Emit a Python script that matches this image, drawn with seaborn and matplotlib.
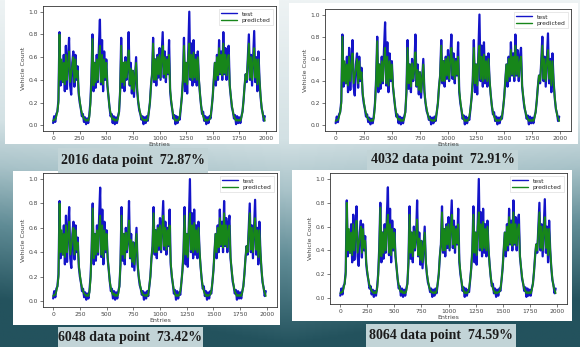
import numpy as np
import pandas as pd
import matplotlib
matplotlib.use("Agg")
import matplotlib.pyplot as plt
from matplotlib.patches import Rectangle
from matplotlib.colors import LinearSegmentedColormap
import seaborn as sns

# ---------------- data ----------------
entries = list(range(0, 2000, 10))

test = [
    0.02, 0.08, 0.03, 0.10, 0.12, 0.22, 0.82, 0.35, 0.55, 0.38,
    0.62, 0.30, 0.70, 0.32, 0.58, 0.77, 0.35, 0.27, 0.55, 0.65,
    0.34, 0.62, 0.40, 0.52, 0.28, 0.20, 0.15, 0.08, 0.10, 0.03,
    0.07, 0.01, 0.06, 0.02, 0.09, 0.20, 0.42, 0.80, 0.30, 0.55,
    0.33, 0.62, 0.38, 0.68, 0.93, 0.36, 0.75, 0.30, 0.65, 0.40,
    0.58, 0.35, 0.25, 0.16, 0.08, 0.10, 0.02, 0.08, 0.01, 0.07,
    0.02, 0.08, 0.12, 0.30, 0.77, 0.33, 0.55, 0.30, 0.60, 0.40,
    0.50, 0.82, 0.35, 0.55, 0.28, 0.48, 0.25, 0.42, 0.60, 0.30,
    0.20, 0.13, 0.10, 0.05, 0.08, 0.01, 0.07, 0.02, 0.08, 0.04,
    0.12, 0.20, 0.35, 0.45, 0.77, 0.38, 0.58, 0.35, 0.62, 0.42,
    0.68, 0.40, 0.60, 0.82, 0.42, 0.65, 0.38, 0.60, 0.45, 0.75,
    0.30, 0.20, 0.14, 0.06, 0.09, 0.01, 0.08, 0.02, 0.07, 0.05,
    0.15, 0.25, 0.40, 0.77, 0.30, 0.55, 0.28, 0.65, 1.00, 0.40,
    0.72, 0.35, 0.75, 0.38, 0.62, 0.35, 0.65, 0.40, 0.28, 0.18,
    0.10, 0.12, 0.04, 0.08, 0.01, 0.07, 0.02, 0.08, 0.06, 0.15,
    0.25, 0.40, 0.55, 0.35, 0.62, 0.40, 0.75, 0.45, 0.65, 0.40,
    0.82, 0.45, 0.68, 0.40, 0.62, 0.70, 0.35, 0.25, 0.16, 0.12,
    0.06, 0.09, 0.01, 0.08, 0.02, 0.07, 0.02, 0.08, 0.12, 0.22,
    0.35, 0.45, 0.38, 0.58, 0.80, 0.40, 0.62, 0.35, 0.58, 0.83,
    0.38, 0.60, 0.30, 0.65, 0.40, 0.25, 0.15, 0.11, 0.04, 0.08,
]

predicted = [
    0.04, 0.05, 0.05, 0.08, 0.12, 0.20, 0.80, 0.40, 0.58, 0.38,
    0.55, 0.36, 0.62, 0.40, 0.55, 0.65, 0.38, 0.45, 0.52, 0.60,
    0.38, 0.58, 0.42, 0.48, 0.30, 0.22, 0.15, 0.11, 0.08, 0.06,
    0.05, 0.04, 0.05, 0.04, 0.07, 0.18, 0.40, 0.76, 0.35, 0.55,
    0.38, 0.58, 0.40, 0.60, 0.70, 0.38, 0.62, 0.36, 0.58, 0.42,
    0.55, 0.36, 0.26, 0.16, 0.11, 0.07, 0.05, 0.06, 0.04, 0.05,
    0.04, 0.06, 0.12, 0.30, 0.70, 0.38, 0.55, 0.35, 0.56, 0.42,
    0.52, 0.66, 0.36, 0.50, 0.32, 0.48, 0.30, 0.42, 0.55, 0.32,
    0.21, 0.15, 0.10, 0.07, 0.05, 0.05, 0.04, 0.05, 0.04, 0.06,
    0.12, 0.20, 0.35, 0.45, 0.72, 0.40, 0.58, 0.40, 0.60, 0.45,
    0.62, 0.42, 0.58, 0.70, 0.45, 0.60, 0.42, 0.58, 0.46, 0.62,
    0.32, 0.22, 0.14, 0.09, 0.06, 0.04, 0.05, 0.04, 0.05, 0.08,
    0.15, 0.25, 0.40, 0.70, 0.38, 0.55, 0.36, 0.60, 0.72, 0.42,
    0.62, 0.40, 0.64, 0.42, 0.58, 0.40, 0.60, 0.42, 0.28, 0.18,
    0.12, 0.08, 0.06, 0.04, 0.05, 0.04, 0.05, 0.05, 0.08, 0.15,
    0.25, 0.40, 0.55, 0.40, 0.60, 0.44, 0.68, 0.46, 0.62, 0.44,
    0.72, 0.46, 0.62, 0.44, 0.58, 0.62, 0.36, 0.26, 0.18, 0.12,
    0.08, 0.06, 0.04, 0.05, 0.04, 0.05, 0.04, 0.07, 0.12, 0.22,
    0.35, 0.45, 0.40, 0.56, 0.72, 0.42, 0.60, 0.40, 0.56, 0.68,
    0.42, 0.58, 0.36, 0.58, 0.40, 0.26, 0.16, 0.10, 0.07, 0.04,
]

captions = ["2016 data point  72.87%", "4032 data point  72.91%",
            "6048 data point  73.42%", "8064 data point  74.59%"]
series_labels = ["test", "predicted"]
x_ticks = [0, 250, 500, 750, 1000, 1250, 1500, 1750, 2000]
y_ticks = [0.0, 0.2, 0.4, 0.6, 0.8, 1.0]

df = pd.DataFrame({"Entries": entries, "test": test, "predicted": predicted})

# ---------------- layout (pixels) ----------------
W, H = 580, 347
sns.set_style("ticks")
plt.rcParams["font.family"] = ["DejaVu Sans"]

fig = plt.figure(figsize=(W / 100, H / 100), dpi=100)


def fx(px):
    return px / W


def fy(py):
    return 1 - py / H


# background gradient
bg = fig.add_axes([0, 0, 1, 1], zorder=-10)
cmap = LinearSegmentedColormap.from_list(
    "bg", [(0.0, "#eef3f4"), (0.40, "#d3e1e4"), (0.55, "#a9c3c9"),
           (0.75, "#5f8b95"), (1.0, "#23525d")])
grad_v = np.linspace(0, 1, 256)[:, None]
grad_h = np.abs(np.linspace(-1, 1, 256))[None, :]
grad = np.clip(grad_v + 0.15 * grad_h * grad_v, 0, 1)
bg.imshow(grad, aspect="auto", cmap=cmap, extent=[0, 1, 0, 1], vmin=0, vmax=1)
bg.set_axis_off()

panels = [
    # white panel, axes, caption box  (x0, y0, x1, y1) in pixels
    ((5, 0, 279, 144), (43, 6, 276, 131), (58, 148, 208, 173)),
    ((289, 3, 578, 144), (325, 9, 571, 131), (367, 150, 518, 170)),
    ((13, 171, 280, 325), (43, 173, 277, 307), (58, 327, 203, 347)),
    ((292, 170, 572, 321), (330, 173, 567, 304), (366, 324, 516, 347)),
]

for k, (wp, ap, cp) in enumerate(panels):
    fig.patches.append(Rectangle((fx(wp[0]), fy(wp[3])), fx(wp[2] - wp[0]), (wp[3] - wp[1]) / H,
                                 transform=fig.transFigure, facecolor="white",
                                 edgecolor="none", zorder=0.5))
    fig.patches.append(Rectangle((fx(cp[0]), fy(cp[3])), fx(cp[2] - cp[0]), (cp[3] - cp[1]) / H,
                                 transform=fig.transFigure, facecolor="#c2d4d7",
                                 edgecolor="none", zorder=0.6))
    fig.text(fx((cp[0] + cp[2]) / 2), fy((cp[1] + cp[3]) / 2), captions[k],
             ha="center", va="center", fontsize=10, fontweight="bold",
             family="Liberation Serif", color="#1c1c1c", zorder=3)

    ax = fig.add_axes([fx(ap[0]), fy(ap[3]), fx(ap[2] - ap[0]), (ap[3] - ap[1]) / H], zorder=2)
    ax.set_facecolor("white")
    sns.lineplot(data=df, x="Entries", y="test", ax=ax, color="#1414c8",
                 lw=1.6, label=series_labels[0], estimator=None)
    sns.lineplot(data=df, x="Entries", y="predicted", ax=ax, color="#17861a",
                 lw=1.3, label=series_labels[1], estimator=None)
    ax.set_xlim(-95, 2095)
    ax.set_ylim(-0.05, 1.05)
    ax.set_xticks(x_ticks)
    ax.set_yticks(y_ticks)
    ax.set_yticklabels([f"{v:.1f}" for v in y_ticks])
    ax.tick_params(labelsize=4.3, length=2, width=0.5, pad=1.5, colors="#444444")
    ax.set_xlabel("Entries", fontsize=4.5, labelpad=1, color="#444444")
    ax.set_ylabel("Vehicle Count", fontsize=4.5, labelpad=2, color="#444444")
    for s in ax.spines.values():
        s.set_linewidth(0.6)
        s.set_color("#333333")
    leg = ax.legend(loc="upper right", fontsize=4.3, frameon=True, handlelength=2.6,
                    borderpad=0.4, labelspacing=0.2, fancybox=False, edgecolor="#cccccc")
    leg.get_frame().set_linewidth(0.4)
    for line in leg.get_lines():
        line.set_linewidth(1.0)

fig.savefig("out.png", dpi=100)
